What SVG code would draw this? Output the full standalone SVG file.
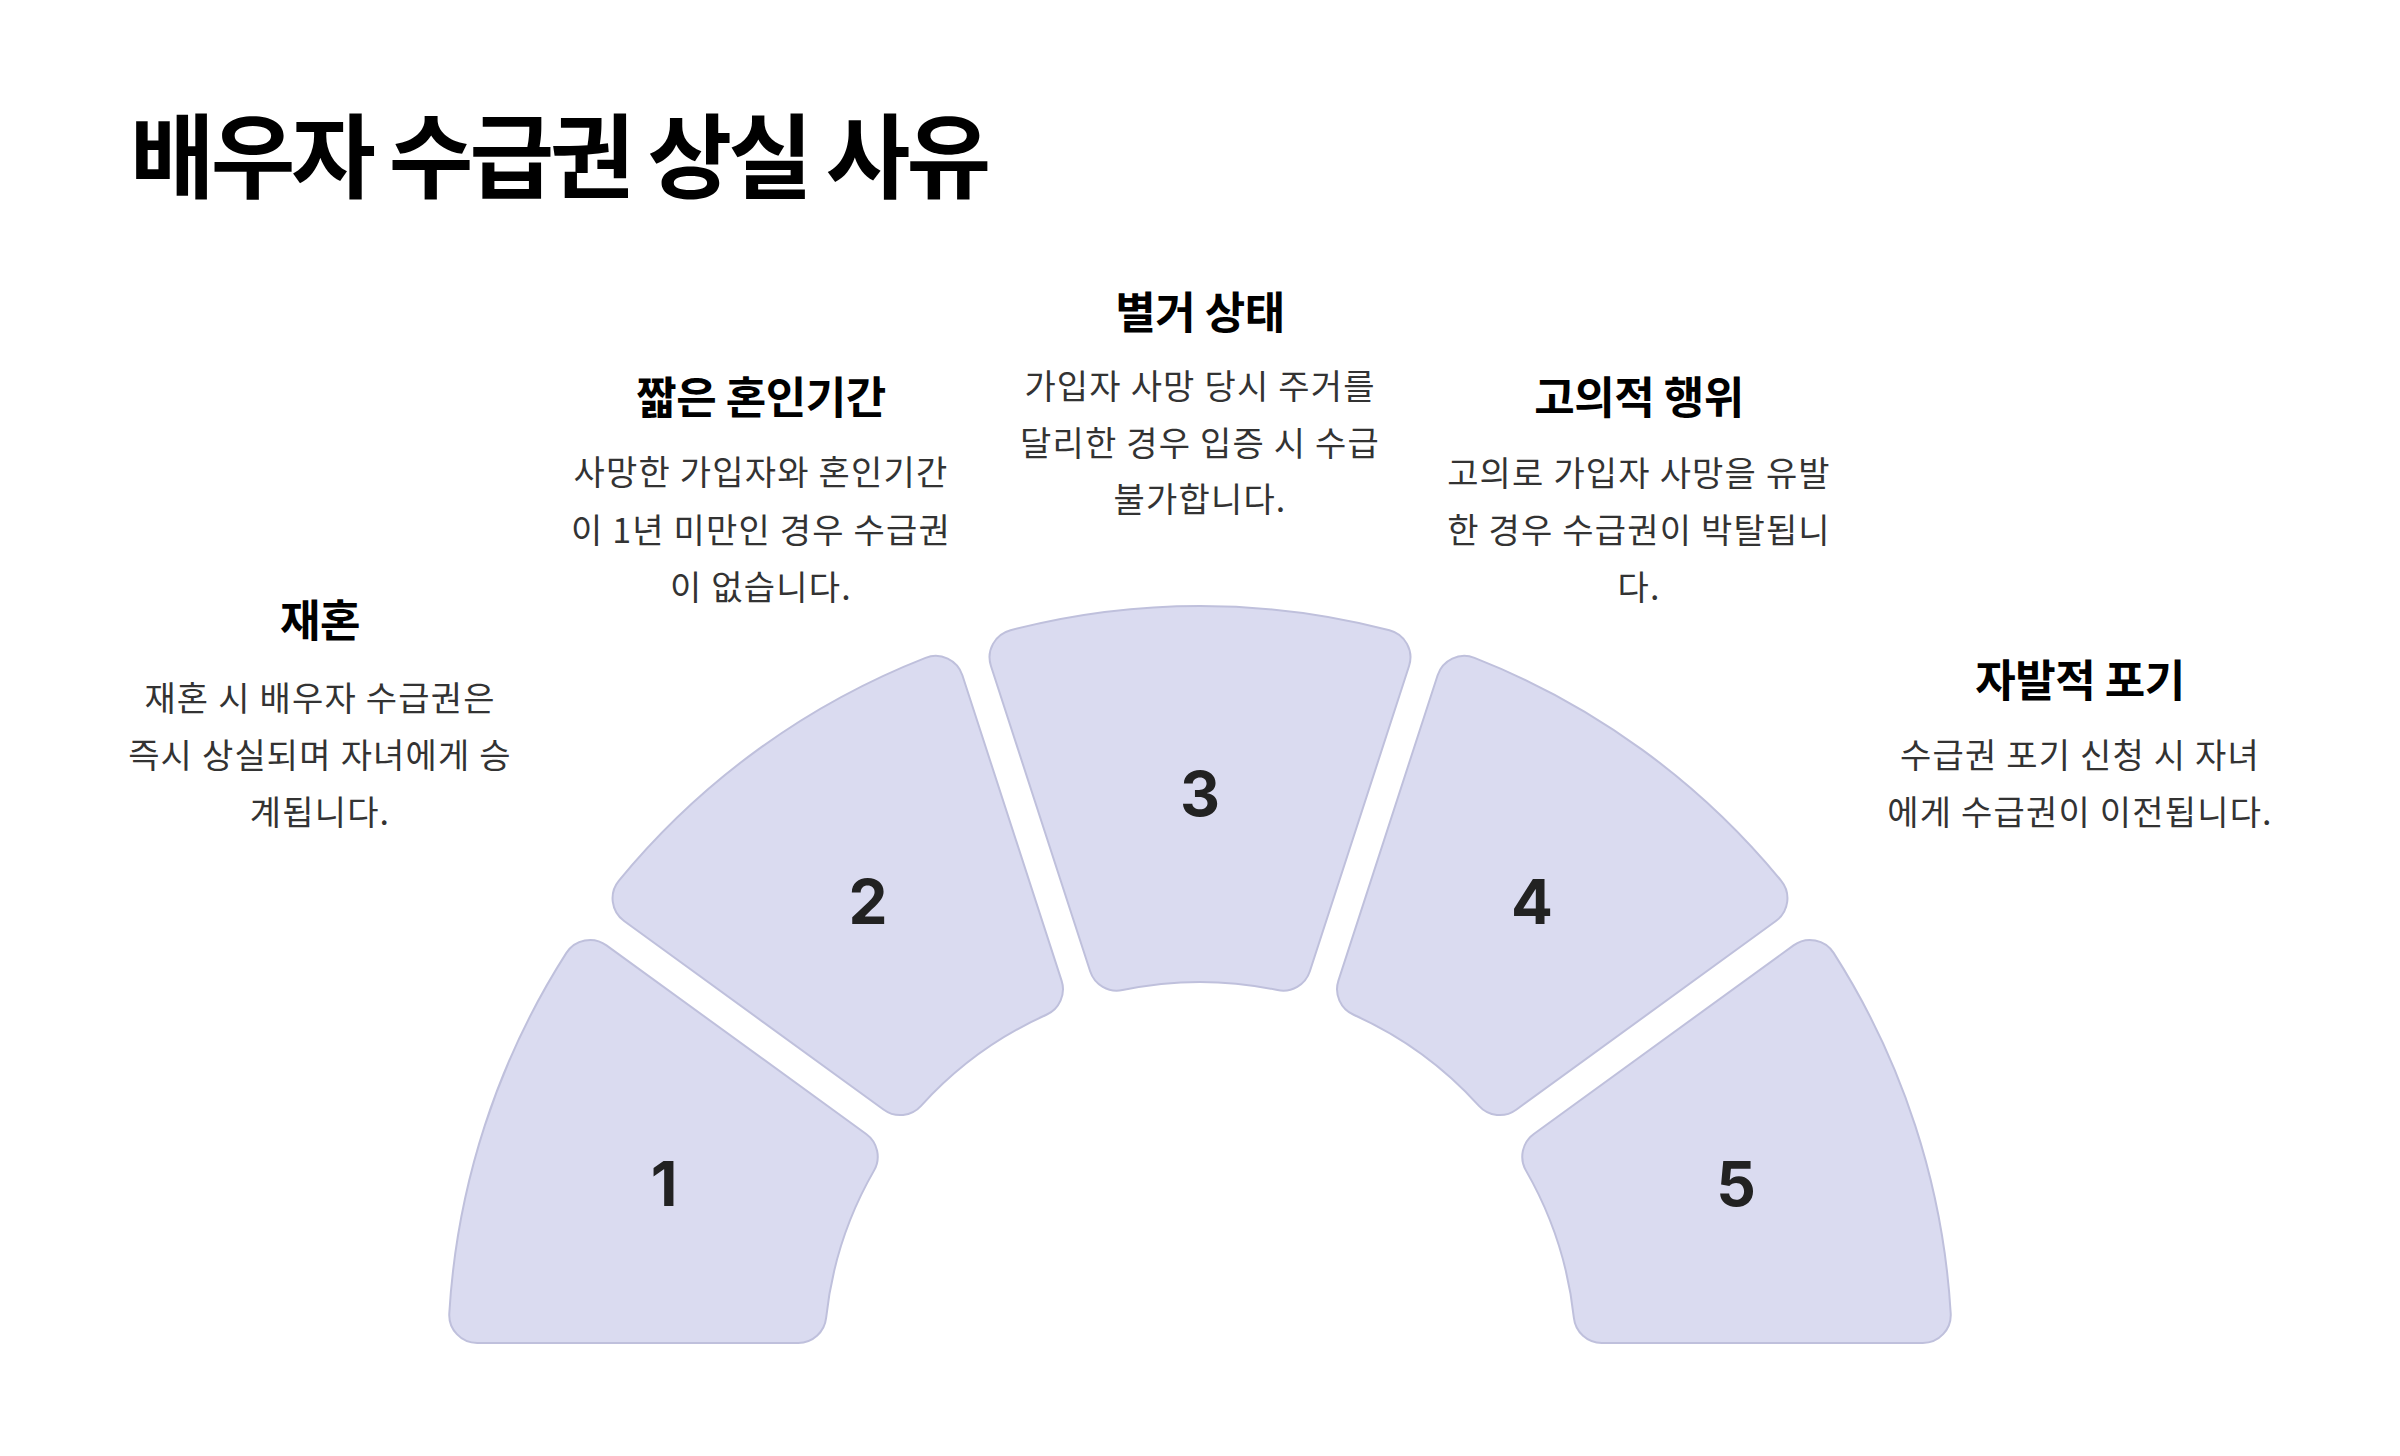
<svg xmlns="http://www.w3.org/2000/svg" xmlns:xlink="http://www.w3.org/1999/xlink" width="2400" height="1456" viewBox="0 0 2400 1456">
<style>
.title{font-family:"Noto Sans CJK KR","Noto Sans",sans-serif;font-weight:700;font-size:92px;fill:#000;letter-spacing:-4px}
.head{font-family:"Noto Sans CJK KR","Noto Sans",sans-serif;font-weight:700;font-size:44px;fill:#000;text-anchor:middle;letter-spacing:-0.5px}
.desc{font-family:"Noto Sans CJK KR","Noto Sans",sans-serif;font-weight:400;font-size:34px;fill:#333;text-anchor:middle;letter-spacing:1.2px}
.seg{fill:#dadbf0;stroke:#bfc0dc;stroke-width:2}
.num{font-family:Inter,"Noto Sans",sans-serif;font-weight:700;font-size:62px;fill:#222;text-anchor:middle}
</style>
<defs>
<path id="seg" d="M 1010.53 630.23 A 752 752 0 0 1 1389.47 630.23 A 28 28 0 0 1 1409.05 665.98 L 1309.86 971.29 A 28 28 0 0 1 1277.46 990.04 A 376 376 0 0 0 1122.54 990.04 A 28 28 0 0 1 1090.14 971.29 L 990.95 665.98 A 28 28 0 0 1 1010.53 630.23 Z"/>
</defs>
<rect width="2400" height="1456" fill="#fff"/>
<text class="title" x="130" y="191">배우자 수급권 상실 사유</text>
<g id="connectors"/>
<g id="node1">
<use href="#seg" class="seg" transform="rotate(-72 1200 1358)"/>
<text class="num" x="664" y="1206">1</text>
<text class="head" x="320" y="637">재혼</text>
<text class="desc" x="320" y="711">재혼 시 배우자 수급권은</text>
<text class="desc" x="320" y="768">즉시 상실되며 자녀에게 승</text>
<text class="desc" x="320" y="825">계됩니다.</text>
</g>
<g id="node2">
<use href="#seg" class="seg" transform="rotate(-36 1200 1358)"/>
<text class="num" x="868" y="924">2</text>
<text class="head" x="761" y="414">짧은 혼인기간</text>
<text class="desc" x="761" y="485">사망한 가입자와 혼인기간</text>
<text class="desc" x="761" y="543">이 1년 미만인 경우 수급권</text>
<text class="desc" x="761" y="600">이 없습니다.</text>
</g>
<g id="node3">
<use href="#seg" class="seg"/>
<text class="num" x="1200" y="816">3</text>
<text class="head" x="1200" y="329">별거 상태</text>
<text class="desc" x="1200" y="399">가입자 사망 당시 주거를</text>
<text class="desc" x="1200" y="456">달리한 경우 입증 시 수급</text>
<text class="desc" x="1200" y="512">불가합니다.</text>
</g>
<g id="node4">
<use href="#seg" class="seg" transform="rotate(36 1200 1358)"/>
<text class="num" x="1532" y="924">4</text>
<text class="head" x="1639" y="414">고의적 행위</text>
<text class="desc" x="1639" y="486">고의로 가입자 사망을 유발</text>
<text class="desc" x="1639" y="543">한 경우 수급권이 박탈됩니</text>
<text class="desc" x="1639" y="600">다.</text>
</g>
<g id="node5">
<use href="#seg" class="seg" transform="rotate(72 1200 1358)"/>
<text class="num" x="1736" y="1206">5</text>
<text class="head" x="2080" y="697">자발적 포기</text>
<text class="desc" x="2080" y="768">수급권 포기 신청 시 자녀</text>
<text class="desc" x="2080" y="825">에게 수급권이 이전됩니다.</text>
</g>
</svg>
